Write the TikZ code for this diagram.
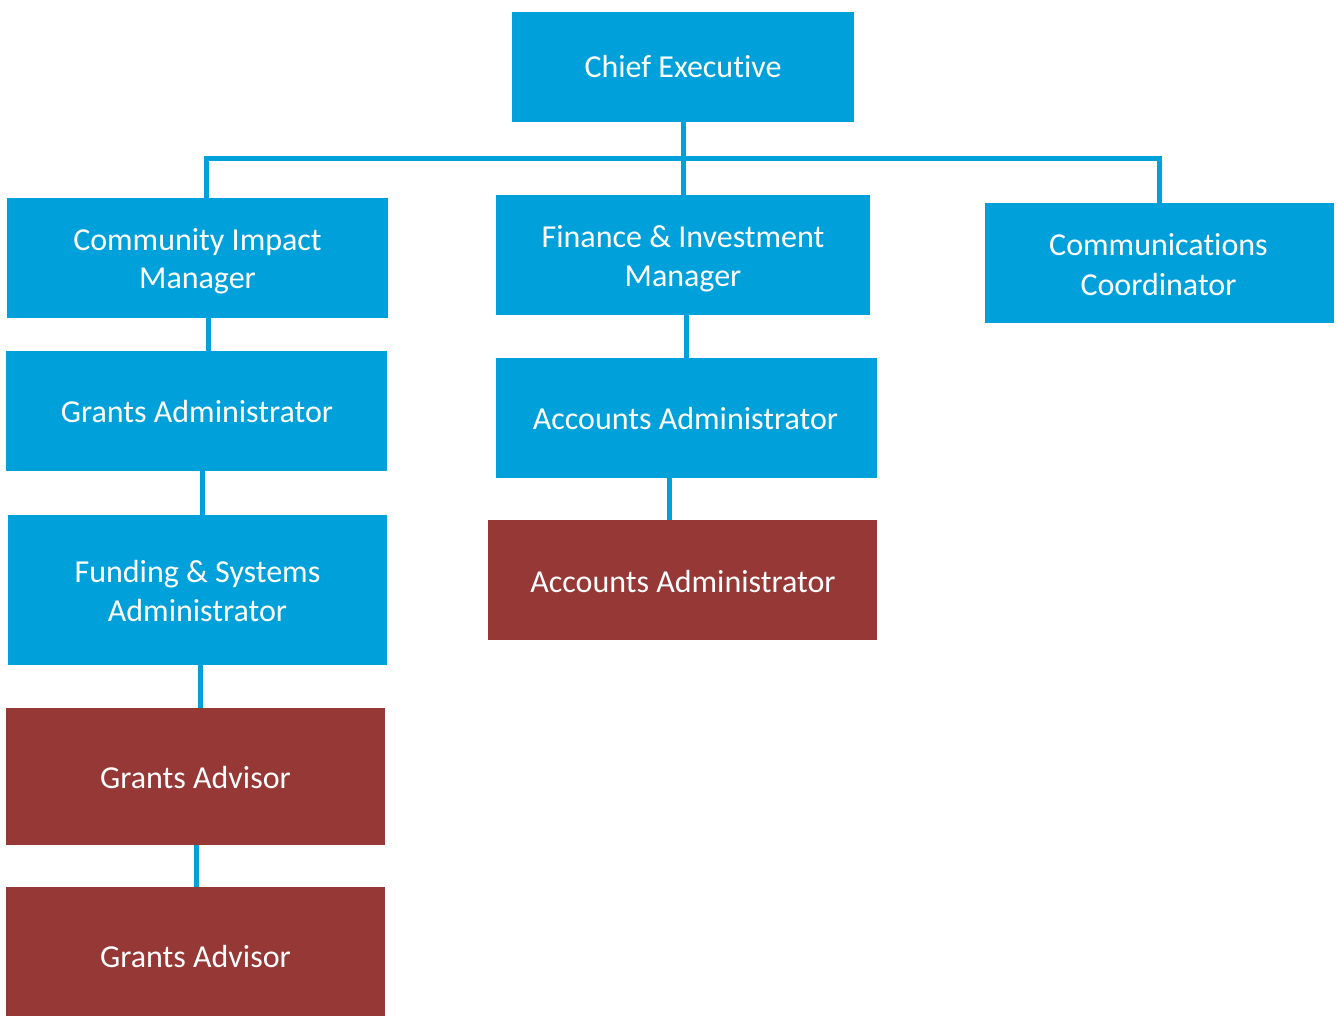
\documentclass[tikz,border=0pt]{standalone}
\usepackage{fontspec}
\setmainfont[Ligatures=NoCommon]{Carlito}
\newcommand{\nlg}{\kern0pt }
\definecolor{orgblue}{RGB}{0,161,218}
\definecolor{orgred}{RGB}{150,56,54}
\tikzset{
  box/.style={rectangle, inner sep=0pt, outer sep=0pt, draw=none},
  bluebox/.style={box, fill=orgblue},
  redbox/.style={box, fill=orgred},
  lbl/.style={inner sep=0pt, outer sep=0pt, anchor=base, text=white,
    font=\fontsize{32}{38}\selectfont},
  conn/.style={draw=orgblue, line width=5pt, line cap=butt, line join=miter}
}
\begin{document}
\begin{tikzpicture}[x=1pt,y=-1pt]
\useasboundingbox (0,0) rectangle (1338,1016);
% boxes
\node[bluebox, minimum width=342pt, minimum height=110pt] (chief) at (683,67) {};
\node[bluebox, minimum width=381pt, minimum height=120pt] (cim) at (197.5,258) {};
\node[bluebox, minimum width=374pt, minimum height=120pt] (fim) at (683,255) {};
\node[bluebox, minimum width=349pt, minimum height=120pt] (cc) at (1159.5,263) {};
\node[bluebox, minimum width=381pt, minimum height=120pt] (ga) at (196.5,411) {};
\node[bluebox, minimum width=381pt, minimum height=120pt] (aa) at (686.5,418) {};
\node[bluebox, minimum width=379pt, minimum height=150pt] (fsa) at (197.5,590) {};
\node[redbox, minimum width=389pt, minimum height=120pt] (aar) at (682.5,580) {};
\node[redbox, minimum width=379pt, minimum height=137pt] (gadv1) at (195.5,776.5) {};
\node[redbox, minimum width=379pt, minimum height=136pt] (gadv2) at (195.5,955) {};
% labels
\node[lbl] (t-chief) at (683,78) {Chief Execut\nlg ive};
\node[lbl] (t-cim1) at (197.5,251) {Community Impact};
\node[lbl] (t-cim2) at (197.5,289) {Manager};
\node[lbl] (t-fim1) at (683,248) {Finance \& Investment};
\node[lbl] (t-fim2) at (683,287) {Manager};
\node[lbl] (t-cc1) at (1158.5,256) {Communicat\nlg ions};
\node[lbl] (t-cc2) at (1158.5,295) {Coordinator};
\node[lbl] (t-ga) at (197,422) {Grants Administrator};
\node[lbl] (t-aa) at (685.5,429) {Accounts Administrator};
\node[lbl] (t-fsa1) at (197.5,582) {Funding \& Systems};
\node[lbl] (t-fsa2) at (197.5,621) {Administrator};
\node[lbl] (t-aar) at (683,592) {Accounts Administrator};
\node[lbl] (t-gadv1) at (195.5,788) {Grants Advisor};
\node[lbl] (t-gadv2) at (195.5,967) {Grants Advisor};
% connector guide coordinates
\coordinate (bar) at (683,159);
\coordinate (xl) at (206.5,0);
\coordinate (xr) at (1159.5,0);
\coordinate (x1) at (208.5,0);
\coordinate (x2) at (202.7,0);
\coordinate (x3) at (200.5,0);
\coordinate (x4) at (196,0);
\coordinate (x5) at (686,0);
\coordinate (x6) at (669.5,0);
% connectors
\draw[conn] (chief.south) -- (fim.north);
\draw[conn] (cim.north -| xl) -- (bar -| xl) -- (bar -| xr) -- (cc.north -| xr);
\draw[conn] (cim.south -| x1) -- (ga.north -| x1);
\draw[conn] (ga.south -| x2) -- (fsa.north -| x2);
\draw[conn] (fsa.south -| x3) -- (gadv1.north -| x3);
\draw[conn] (gadv1.south -| x4) -- (gadv2.north -| x4);
\draw[conn] (fim.south -| x5) -- (aa.north -| x5);
\draw[conn] (aa.south -| x6) -- (aar.north -| x6);
\end{tikzpicture}
\end{document}
